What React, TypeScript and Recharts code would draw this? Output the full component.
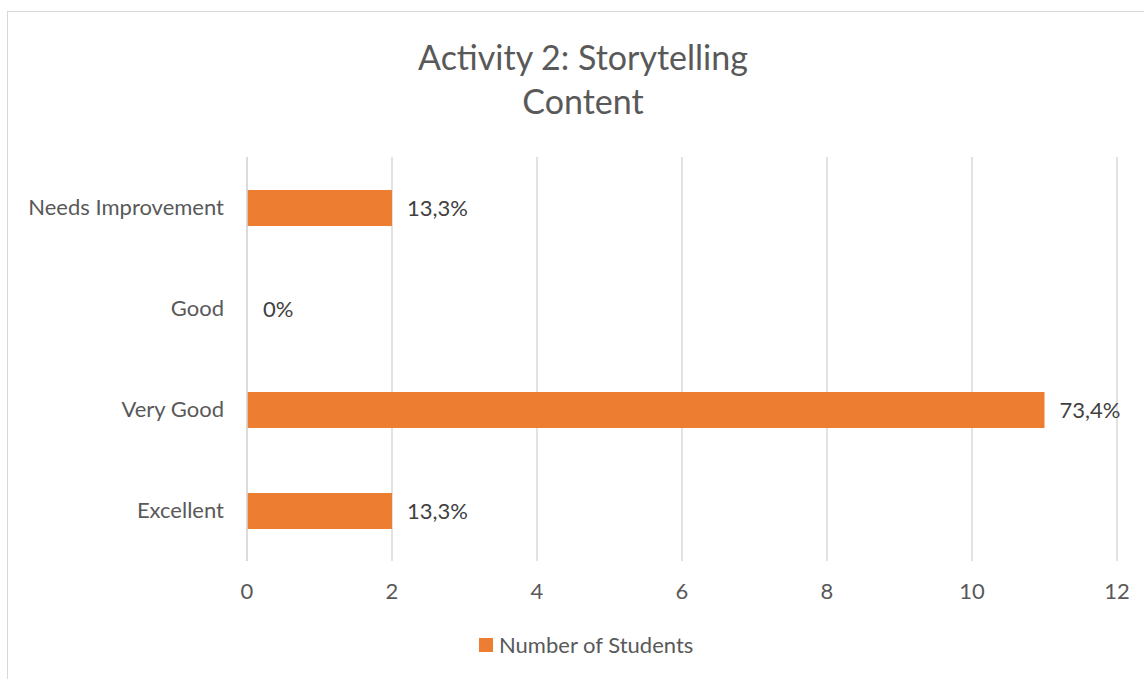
import React from "react";
import {
  BarChart,
  Bar,
  Cell,
  XAxis,
  YAxis,
  CartesianGrid,
  LabelList,
} from "recharts";

const categories = ["Needs Improvement", "Good", "Very Good", "Excellent"];
const students = [2, 0, 11, 2];
const percentLabels = ["13,3%", "0%", "73,4%", "13,3%"];
const xTicks = [0, 2, 4, 6, 8, 10, 12];

const data = categories.map((name, i) => ({
  name,
  students: students[i],
  pct: percentLabels[i],
}));

const FONT = "Lato, 'Open Sans', sans-serif";
const TEXT = "#595959";
const GRID = "#d9d9d9";
const ORANGE = "#ED7D31";

const App = () => {
  return (
    <div
      style={{
        position: "absolute",
        left: 0,
        top: 0,
        width: 1144,
        height: 679,
        overflow: "hidden",
        background: "#fff",
        fontFamily: FONT,
      }}
    >
      <div
        style={{
          position: "absolute",
          left: 7,
          top: 11,
          width: 1180,
          height: 720,
          border: "1.5px solid #d9d9d9",
        }}
      />
      <div
        style={{
          position: "absolute",
          left: 283,
          width: 600,
          top: 35,
          textAlign: "center",
          fontSize: 34,
          lineHeight: "44px",
          color: TEXT,
        }}
      >
        Activity 2: Storytelling
        <br />
        Content
      </div>
      <div style={{ position: "absolute", left: 0, top: 0 }}>
        <BarChart
          width={1144}
          height={679}
          data={data}
          layout="vertical"
          margin={{ top: 157, right: 27, bottom: 88, left: 0 }}
          barSize={36}
        >
          <CartesianGrid horizontal={false} stroke={GRID} strokeWidth={1.5} />
          <XAxis
            type="number"
            domain={[0, 12]}
            ticks={xTicks}
            axisLine={false}
            tickLine={false}
            tickSize={0}
            tickMargin={22}
            height={30}
            tick={{ fill: TEXT, fontSize: 22, fontFamily: FONT }}
          />
          <YAxis
            type="category"
            dataKey="name"
            width={247}
            axisLine={{ stroke: GRID, strokeWidth: 1.5 }}
            tickLine={false}
            tickSize={0}
            tickMargin={23}
            tick={{ fill: TEXT, fontSize: 22, fontFamily: FONT }}
          />
          <Bar
            dataKey="students"
            fill={ORANGE}
            minPointSize={1}
            isAnimationActive={false}
          >
            {data.map((d) => (
              <Cell
                key={d.name}
                fill={ORANGE}
                fillOpacity={d.students === 0 ? 0 : 1}
              />
            ))}
            <LabelList
              dataKey="pct"
              position="right"
              offset={15}
              fill="#404040"
              fontSize={22}
              fontFamily={FONT}
            />
          </Bar>
        </BarChart>
      </div>
      <div
        style={{
          position: "absolute",
          left: 479,
          top: 631,
          display: "flex",
          alignItems: "center",
          fontSize: 22,
          color: TEXT,
        }}
      >
        <span
          style={{
            display: "inline-block",
            width: 14,
            height: 14,
            background: ORANGE,
            marginRight: 6,
          }}
        />
        Number of Students
      </div>
    </div>
  );
};

export default App;
